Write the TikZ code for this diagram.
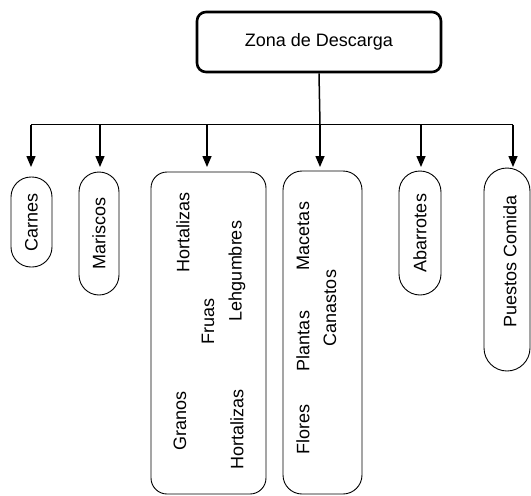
\documentclass[tikz,border=0pt]{standalone}
\usepackage{fontspec}
\setmainfont{Liberation Sans}
\usetikzlibrary{arrows.meta}
\begin{document}
\begin{tikzpicture}[x=1pt,y=-1pt,
  every node/.style={font=\fontsize{18}{20}\selectfont, inner sep=0pt},
  headbox/.style={draw, line width=2.6pt, rounded corners=9pt,
    minimum width=244pt, minimum height=60pt},
  pill/.style={draw, line width=0.9pt, rounded corners=#1,
    rotate=90},
  itembox/.style={draw, line width=0.9pt, rounded corners=#1},
  vtext/.style={rotate=90},
  link/.style={line width=1.5pt},
  arr/.style={line width=1.5pt, -{Triangle[length=11pt,width=9pt]}}
]
\useasboundingbox (0,0) rectangle (531,496);

% root
\node[headbox] (root) at (319,42) {Zona de Descarga};

% branches
\node[pill=20pt, minimum width=90pt, minimum height=41pt] (carnes) at (31.5,222) {Carnes};
\node[pill=20pt, minimum width=123pt, minimum height=40pt] (mariscos) at (99,233.5) {Mariscos};
\node[itembox=16pt, minimum width=115pt, minimum height=322pt] (hort) at (208.5,333) {};
\node[itembox=19pt, minimum width=79pt, minimum height=323pt] (plant) at (322.5,332.5) {};
\node[pill=21pt, minimum width=124pt, minimum height=42pt] (abarr) at (420,233) {Abarrotes};
\node[pill=23pt, minimum width=203pt, minimum height=46pt] (puestos) at (507,269.5) {};
\node[vtext] (puestosT) at (510,261) {Puestos Comida};

% contents of the produce box
\node[vtext] (h1) at (183,232) {Hortalizas};
\node[vtext] (fr) at (208,321) {Fruas};
\node[vtext] (le) at (237,271) {Lehgumbres};
\node[vtext] (gr) at (180,421) {Granos};
\node[vtext] (h2) at (237,429) {Hortalizas};

% contents of the plants box
\node[vtext] (ma) at (303,236) {Macetas};
\node[vtext] (ca) at (330,308) {Canastos};
\node[vtext] (pl) at (303,341) {Plantas};
\node[vtext] (fl) at (303,429) {Flores};

% connectors
\coordinate (bus) at (320,124.5);
\coordinate (tips) at (0,167);
\coordinate (dC) at (31,124.5);
\coordinate (dM) at (100,124.5);
\coordinate (dH) at (207,124.5);
\coordinate (dP) at (320,124.5);
\coordinate (dA) at (421,124.5);
\coordinate (dQ) at (513,124.5);

\draw[link] (root.south) -- (bus);
\draw[link] (dC) -- (dQ);
\draw[arr] (dC) -- (dC |- tips);
\draw[arr] (dM) -- (dM |- tips);
\draw[arr] (dH) -- (dH |- tips);
\draw[arr] (dP) -- (dP |- tips);
\draw[arr] (dA) -- (dA |- tips);
\draw[arr] (dQ) -- (dQ |- tips);
\end{tikzpicture}
\end{document}
